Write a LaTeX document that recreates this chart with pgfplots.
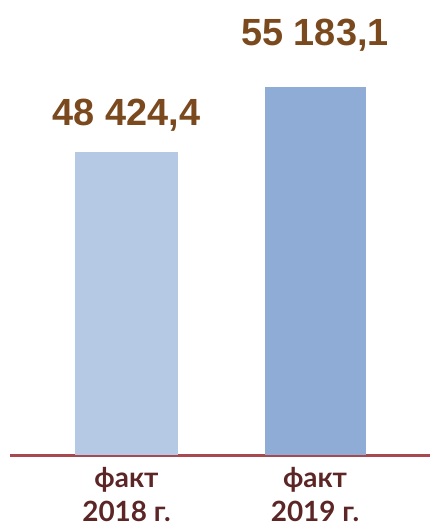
\documentclass[border=0pt]{standalone}
\usepackage{fontspec}
\usepackage{pgfplots}
\pgfplotsset{compat=1.18}
\newfontfamily\lato{Lato}
\newfontfamily\libsans{Liberation Sans}
\definecolor{barA}{HTML}{B5C8E4}
\definecolor{barB}{HTML}{8EACD6}
\definecolor{valc}{HTML}{7A4A1E}
\definecolor{catc}{HTML}{5C2626}
\definecolor{linec}{HTML}{A84850}
\begin{document}
\begin{tikzpicture}
\useasboundingbox (0,0) rectangle (430bp,531bp);
\begin{axis}[
  at={(10bp,75.5bp)}, anchor=south west,
  scale only axis, width=420bp, height=455.5bp,
  xmin=-0.618, xmax=1.610, ymin=16860, ymax=64232,
  axis x line=bottom, axis y line=none,
  x axis line style={linec, line width=2.2bp, -},
  ytick=\empty, xtick={0,1}, major tick length=0pt,
  xticklabels={{факт\\2018 г.},{факт\\2019 г.}},
  xticklabel style={align=center, font=\lato\bfseries\fontsize{28}{34}\selectfont, text=catc, inner sep=0pt, anchor=north, yshift=-12bp},
  clip=false,
]
\addplot[ybar, bar width=103bp, bar shift=0pt, fill=barA, draw=none,
  nodes near coords={48 424,4},
  nodes near coords style={font=\libsans\bfseries\fontsize{38}{40}\selectfont, text=valc, inner sep=0pt, anchor=base, yshift=26bp}]
  coordinates {(0,48424.4)};
\addplot[ybar, bar width=101bp, bar shift=0pt, fill=barB, draw=none,
  nodes near coords={55 183,1},
  nodes near coords style={font=\libsans\bfseries\fontsize{38}{40}\selectfont, text=valc, inner sep=0pt, anchor=base, yshift=42bp}]
  coordinates {(1,55183.1)};
\end{axis}
\end{tikzpicture}
\end{document}
